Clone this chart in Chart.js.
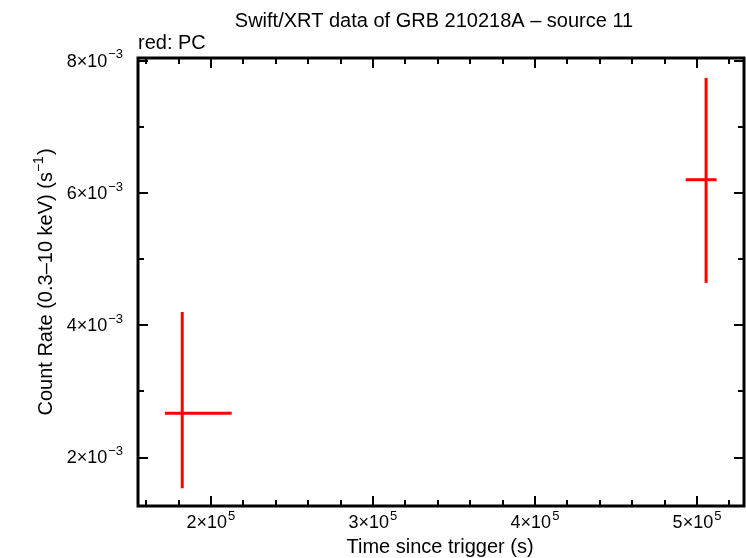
<!DOCTYPE html>
<html>
<head>
<meta charset="utf-8">
<script src="https://cdn.jsdelivr.net/npm/chart.js@4"></script>
<style>
  html, body { margin: 0; padding: 0; background: #fff; }
  #wrap { width: 746px; height: 558px; }
</style>
</head>
<body>
<div id="wrap"><canvas id="lc" width="746" height="558"></canvas></div>
<script>
// light curve points (PC mode)
const times = [182300, 505600];
const timeLo = [171600, 493000];
const timeHi = [212800, 512100];
const rates = [2.67e-3, 6.20e-3];
const rateLo = [1.535e-3, 4.64e-3];
const rateHi = [4.20e-3, 7.74e-3];

// axis ticks
const xTicks = [2e5, 3e5, 4e5, 5e5];
const xTickLabels = [['2', '5'], ['3', '5'], ['4', '5'], ['5', '5']];
const yTicks = [2e-3, 4e-3, 6e-3, 8e-3];
const yTickLabels = [['2', '\u22123'], ['4', '\u22123'], ['6', '\u22123'], ['8', '\u22123']];

const FONT = '"Liberation Sans", Arial, Helvetica, sans-serif';

// build error-bar segments from the arrays
const datasets = [];
times.forEach((t, i) => {
    datasets.push({
        data: [{x: timeLo[i], y: rates[i]}, {x: timeHi[i], y: rates[i]}],
        borderColor: '#ff0000', borderWidth: 3, showLine: true, pointRadius: 0
    });
    datasets.push({
        data: [{x: t, y: rateLo[i]}, {x: t, y: rateHi[i]}],
        borderColor: '#ff0000', borderWidth: 3, showLine: true, pointRadius: 0
    });
});

// label like 2x10^5 with a real superscript
function drawSci(ctx, mant, exp, x, y, align) {
    const big = '18px ' + FONT;
    const small = '13px ' + FONT;
    const base = mant + '\u00d710';
    ctx.font = big;
    const w1 = ctx.measureText(base).width;
    ctx.font = small;
    const w2 = ctx.measureText(exp).width;
    const total = w1 + w2 + 1;
    let x0 = x;
    if (align === 'center') x0 = x - total / 2;
    if (align === 'right') x0 = x - total;
    ctx.textAlign = 'left';
    ctx.textBaseline = 'middle';
    ctx.font = big;
    ctx.fillText(base, x0, y);
    ctx.font = small;
    ctx.fillText(exp, x0 + w1 + 1, y - 7);
}

const framePlugin = {
    id: 'frame',
    afterDraw(chart) {
        const ctx = chart.ctx;
        const a = chart.chartArea;
        const xs = chart.scales.x, ys = chart.scales.y;
        ctx.save();
        ctx.strokeStyle = '#000';
        ctx.fillStyle = '#000';

        // minor/major ticks on all four sides
        ctx.lineWidth = 2;
        ctx.beginPath();
        for (let v = 160000; v <= 520000; v += 20000) {
            const px = Math.round(xs.getPixelForValue(v));
            const len = (v % 100000 === 0) ? 10 : 6;
            ctx.moveTo(px, a.bottom); ctx.lineTo(px, a.bottom - len);
            ctx.moveTo(px, a.top); ctx.lineTo(px, a.top + len);
        }
        for (let k = 2; k <= 8; k++) {
            const py = Math.round(ys.getPixelForValue(k * 1e-3));
            const len = (k % 2 === 0) ? 10 : 6;
            ctx.moveTo(a.left, py); ctx.lineTo(a.left + len, py);
            ctx.moveTo(a.right, py); ctx.lineTo(a.right - len, py);
        }
        ctx.stroke();

        // frame
        ctx.lineWidth = 3;
        ctx.strokeRect(a.left, a.top, a.right - a.left, a.bottom - a.top);

        // tick labels
        xTicks.forEach((v, i) => {
            drawSci(ctx, xTickLabels[i][0], xTickLabels[i][1], xs.getPixelForValue(v), a.bottom + 17, 'center');
        });
        yTicks.forEach((v, i) => {
            drawSci(ctx, yTickLabels[i][0], yTickLabels[i][1], a.left - 15, ys.getPixelForValue(v) + 1, 'right');
        });

        // titles
        ctx.font = '20px ' + FONT;
        ctx.textAlign = 'center';
        ctx.textBaseline = 'middle';
        ctx.fillText('Swift/XRT data of GRB 210218A \u2013 source 11', 434, 21);
        ctx.fillText('Time since trigger (s)', 440, 547);
        ctx.textAlign = 'left';
        ctx.fillText('red: PC', 138, 43);

        // y title, rotated, with superscript
        ctx.translate(46, 282);
        ctx.rotate(-Math.PI / 2);
        const t1 = 'Count Rate (0.3\u201310 keV) (s';
        const t2 = '\u22121';
        const t3 = ')';
        ctx.font = '20px ' + FONT;
        const w1 = ctx.measureText(t1).width;
        const w3 = ctx.measureText(t3).width;
        ctx.font = '14px ' + FONT;
        const w2 = ctx.measureText(t2).width;
        let x0 = -(w1 + w2 + w3 + 1) / 2;
        ctx.font = '20px ' + FONT;
        ctx.fillText(t1, x0, 0);
        ctx.font = '14px ' + FONT;
        ctx.fillText(t2, x0 + w1, -7);
        ctx.font = '20px ' + FONT;
        ctx.fillText(t3, x0 + w1 + w2 + 1, 0);
        ctx.restore();
    }
};

new Chart(document.getElementById('lc').getContext('2d'), {
    type: 'scatter',
    data: { datasets: datasets },
    options: {
        responsive: false,
        animation: false,
        layout: { padding: { left: 138, right: 2, top: 58, bottom: 52 } },
        plugins: {
            legend: { display: false },
            tooltip: { enabled: false }
        },
        scales: {
            x: { type: 'linear', min: 155000, max: 529000, display: false },
            y: { type: 'linear', min: 1.267e-3, max: 8.04e-3, display: false }
        }
    },
    plugins: [framePlugin]
});
</script>
</body>
</html>
